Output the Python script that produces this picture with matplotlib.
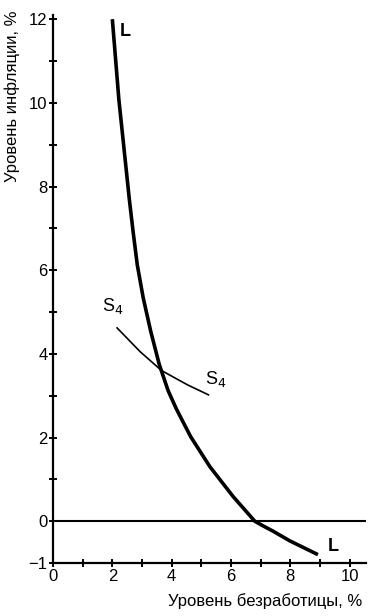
import matplotlib
matplotlib.use("Agg")
import matplotlib.pyplot as plt
from matplotlib.ticker import MultipleLocator

plt.rcParams['font.family'] = ['Liberation Sans', 'DejaVu Sans']

# Phillips curve L (unemployment %, inflation %)
L_x = [2.0, 2.22, 2.57, 2.70, 2.84, 3.04, 3.29, 3.58, 3.88, 4.16, 4.64, 5.29, 6.07,
       6.80, 7.10, 7.42, 7.98, 8.93]
L_y = [12.0, 10.08, 7.71, 6.92, 6.13, 5.34, 4.55, 3.75, 3.12, 2.68, 2.02, 1.30, 0.59,
       0.0, -0.12, -0.24, -0.47, -0.80]

# Short-run curve S4
S_x = [2.16, 2.94, 3.66, 4.53, 5.24]
S_y = [4.62, 4.05, 3.60, 3.26, 3.02]

x_ticks = [0, 2, 4, 6, 8, 10]
y_ticks = [-1, 0, 2, 4, 6, 8, 10, 12]

fig = plt.figure(figsize=(3.75, 6.16), dpi=100)
ax = fig.add_axes([53/375, 1-563/616, (366-53)/375, (563-15)/616])

ax.plot(L_x, L_y, color='black', lw=2.6, solid_capstyle='butt', solid_joinstyle='round')
ax.plot(S_x, S_y, color='black', lw=1.2, solid_joinstyle='round')
ax.axhline(0, color='black', lw=1.5)

ax.set_xlim(0, 10.55)
ax.set_ylim(-1, 12.1)
ax.set_xticks(x_ticks)
ax.set_yticks(y_ticks)
ax.set_yticklabels(['\u22121' if t == -1 else str(t) for t in y_ticks])
ax.xaxis.set_minor_locator(MultipleLocator(1))
ax.yaxis.set_minor_locator(MultipleLocator(1))
for s in ['top', 'right']:
    ax.spines[s].set_visible(False)
for s in ['left', 'bottom']:
    ax.spines[s].set_linewidth(1.6)
ax.tick_params(which='both', direction='inout', length=6, width=1.4, labelsize=12)
ax.tick_params(axis='x', pad=1)
ax.tick_params(axis='y', pad=1)

ax.text(2.43, 11.7, 'L', fontsize=13, fontweight='bold', va='center', ha='center')
ax.text(9.45, -0.6, 'L', fontsize=13, fontweight='bold', va='center', ha='center')
ax.text(2.0, 5.15, 'S$_4$', fontsize=13, va='center', ha='center')
ax.text(5.5, 3.4, 'S$_4$', fontsize=13, va='center', ha='center')

fig.text(12/375, 1-10/616, 'Уровень инфляции, %', rotation=90, ha='center', va='top', fontsize=12)
fig.text(362/375, 1-601/616, 'Уровень безработицы, %', ha='right', va='center', fontsize=12)

fig.savefig('out.png', dpi=100)
